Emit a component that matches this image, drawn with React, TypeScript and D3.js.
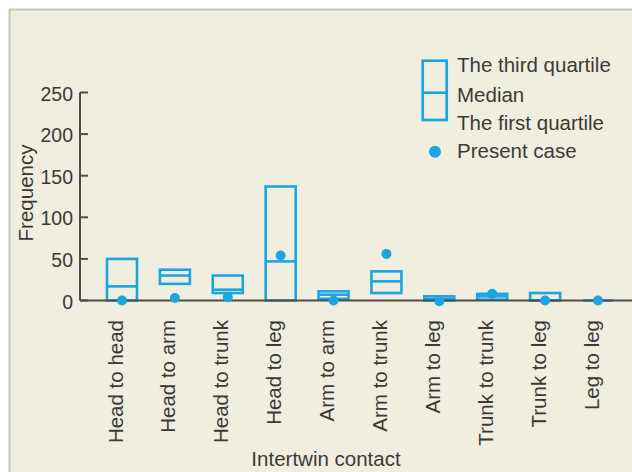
import React from "react";
import * as d3 from "d3";

const categories = [
  "Head to head",
  "Head to arm",
  "Head to trunk",
  "Head to leg",
  "Arm to arm",
  "Arm to trunk",
  "Arm to leg",
  "Trunk to trunk",
  "Trunk to leg",
  "Leg to leg",
];
const thirdQuartile = [50, 37, 30, 137, 11, 35, 5, 8, 9, 0];
const median = [17, 30, 13, 47, 7, 23, 2, 5, 0, 0];
const firstQuartile = [0, 20, 9, 0, 2, 9, 0, 1, 0, 0];
const presentCase = [0, 3, 4, 54, 0, 56, -1, 8, 0, 0];
const yTicks = [0, 50, 100, 150, 200, 250];

const W = 632;
const H = 472;
const BLUE = "#1ba6e1";
const TEXT = "#3a3a38";
const AXIS = "#4f4c47";
const BG = "#f2eedf";
const FONT = "'Liberation Sans', Arial, sans-serif";

export default function App() {
  const x = d3.scalePoint<string>().domain(categories).range([122, 598]);
  const y = d3.scaleLinear().domain([0, 250]).range([300.5, 92.5]);
  const boxW = 30;

  return (
    <div style={{ position: "fixed", left: 0, top: 0, width: W, height: H }}>
      <svg width={W} height={H} style={{ display: "block" }} fontFamily={FONT}>
        <rect x={0} y={0} width={W} height={H} fill="#ffffff" />
        <rect x={9} y={9} width={W - 9} height={H - 9} fill={BG} />
        <line x1={9} y1={9.5} x2={W} y2={9.5} stroke="#cbc7c1" strokeWidth={2} />
        <line x1={9.5} y1={9} x2={9.5} y2={H} stroke="#cbc7c1" strokeWidth={2} />

        {/* boxes */}
        {categories.map((c, i) => {
          const cx = x(c)!;
          const top = y(thirdQuartile[i]);
          const bot = y(firstQuartile[i]);
          const med = y(median[i]);
          return (
            <g key={c} stroke={BLUE} strokeWidth={2.6} fill="none">
              <rect x={cx - boxW / 2} y={top} width={boxW} height={Math.max(0, bot - top)} />
              <line x1={cx - boxW / 2} x2={cx + boxW / 2} y1={med} y2={med} />
            </g>
          );
        })}

        {/* axes */}
        <line x1={80} x2={W} y1={y(0)} y2={y(0)} stroke={AXIS} strokeWidth={2} />
        <line x1={80} x2={80} y1={y(250)} y2={y(0)} stroke={AXIS} strokeWidth={2} />
        {yTicks.map((t) => (
          <g key={t}>
            <line x1={80} x2={88} y1={y(t)} y2={y(t)} stroke={AXIS} strokeWidth={2} />
            <text
              x={73}
              y={y(t) + 8}
              textAnchor="end"
              fontSize={19.5}
              fill={TEXT}
            >
              {t}
            </text>
          </g>
        ))}

        {/* present case dots */}
        {categories.map((c, i) => (
          <circle key={c} cx={x(c)!} cy={y(presentCase[i])} r={5} fill={BLUE} />
        ))}

        {/* category labels */}
        {categories.map((c) => (
          <text
            key={c}
            transform={`translate(${x(c)! + 0.5},320) rotate(-90)`}
            textAnchor="end"
            fontSize={20.5}
            fill={TEXT}
          >
            {c}
          </text>
        ))}

        <text
          transform="translate(33,193) rotate(-90)"
          textAnchor="middle"
          fontSize={20.5}
          fill={TEXT}
        >
          Frequency
        </text>
        <text x={326} y={465.5} textAnchor="middle" fontSize={20.5} fill={TEXT}>
          Intertwin contact
        </text>

        {/* legend */}
        <g stroke={BLUE} strokeWidth={2.7} fill="none">
          <rect x={422.7} y={60.7} width={24} height={59.3} />
          <line x1={422.7} x2={446.7} y1={92.7} y2={92.7} />
        </g>
        <circle cx={435} cy={151.7} r={6} fill={BLUE} />
        <g fontSize={20.5} fill={TEXT}>
          <text x={457} y={72.3}>The third quartile</text>
          <text x={457} y={101.5}>Median</text>
          <text x={457} y={130}>The first quartile</text>
          <text x={457} y={158.3}>Present case</text>
        </g>
      </svg>
    </div>
  );
}
